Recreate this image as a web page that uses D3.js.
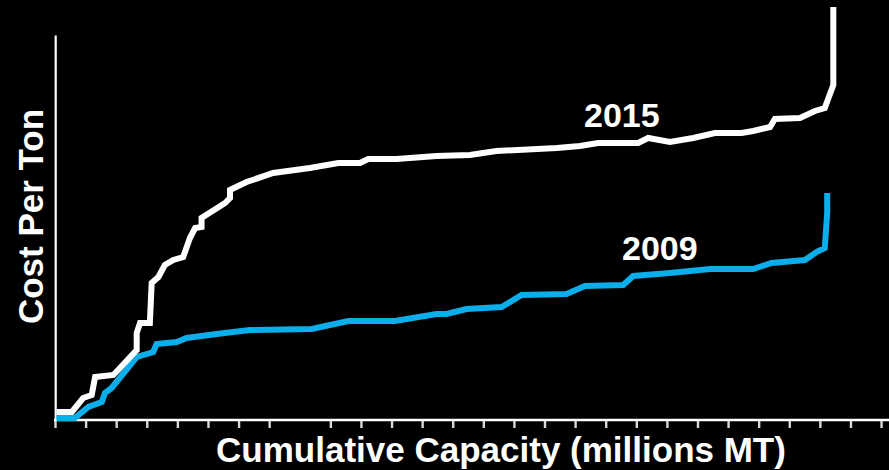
<!DOCTYPE html>
<html>
<head>
<meta charset="utf-8">
<script src="https://cdn.jsdelivr.net/npm/d3@7"></script>
<style>
  html, body { margin: 0; padding: 0; background: #000; }
  svg { display: block; }
  text { font-family: "Liberation Sans", Arial, sans-serif; font-weight: bold; fill: #fff; }
</style>
</head>
<body>
<script>
// ---- Data (cumulative capacity in millions MT, cost per ton in arbitrary units) ----
const series2015Capacity = [0.5, 5.5, 9.2, 12.0, 13.1, 19.1, 26.7, 26.7, 27.8, 31.0, 31.6, 33.8, 35.9, 38.7, 41.9, 44.1, 45.8, 47.9, 47.9, 55.6, 57.2, 57.2, 62.6, 71.3, 83.3, 92.6, 99.7, 102.4, 111.7, 124.7, 135.6, 144.3, 164.0, 171.6, 177.5, 183.6, 190.6, 193.9, 201.0, 208.6, 215.7, 224.4, 228.2, 233.7, 235.3, 243.5, 248.4, 251.6, 254.4, 254.4];
const series2015Cost     = [8, 8, 22, 25, 43, 45, 70, 87, 97, 97, 137, 143, 155, 160, 163, 182, 192, 193, 202, 217, 222, 230, 238, 247, 252, 257, 257, 261, 261, 264, 265, 269, 272, 274, 277, 277, 277, 282, 278, 282, 287, 287, 289, 293, 301, 302, 309, 312, 335, 413];

const series2009Capacity = [0.5, 6.5, 10.9, 15.3, 16.3, 18.5, 26.7, 32.1, 33.2, 39.8, 43.0, 52.8, 63.7, 83.9, 95.9, 111.1, 124.7, 128.0, 134.5, 146.0, 152.5, 167.2, 173.2, 185.7, 189.0, 201.0, 214.1, 228.2, 234.2, 245.1, 248.9, 251.6, 252.4, 252.4];
const series2009Cost     = [2, 2, 13, 18, 27, 32, 63, 68, 76, 78, 82, 86, 90, 91, 99, 99, 106, 106, 111, 113, 125, 126, 134, 135, 144, 147, 151, 151, 157, 160, 168, 172, 207, 227];

const seriesNames = ["2015", "2009"];
const xTickValues = [0, 10, 20, 30, 40, 50, 60, 70, 90, 100, 110, 120, 130, 140, 150, 160, 170, 180, 190, 200, 210, 220, 230, 240, 250, 260, 270];
const xAxisTitle = "Cumulative Capacity (millions MT)";
const yAxisTitle = "Cost Per Ton";

// ---- Layout ----
const W = 889, H = 470;
const svg = d3.select("body").append("svg").attr("width", W).attr("height", H)
  .style("background", "#000");
svg.append("rect").attr("width", W).attr("height", H).attr("fill", "#000");

const x = d3.scaleLinear().domain([0, 272.6]).range([55, 889]);
const y = d3.scaleLinear().domain([0, 385]).range([420, 35]);

// x axis ticks
const xAxis = d3.axisBottom(x).tickValues(xTickValues).tickSizeInner(7).tickSizeOuter(0).tickFormat("");
const gx = svg.append("g").attr("transform", "translate(0,421)").call(xAxis);
gx.select(".domain").remove();
gx.selectAll(".tick line").attr("stroke", "#d8d8d8").attr("stroke-width", 2.4);

// axis lines
svg.append("line").attr("x1", 54).attr("x2", W).attr("y1", 420).attr("y2", 420)
  .attr("stroke", "#fff").attr("stroke-width", 2.4);
const yAxis = d3.axisLeft(y).tickValues([]).tickSizeOuter(0);
const gy = svg.append("g").attr("transform", "translate(55.2,0)").call(yAxis);
gy.select(".domain").attr("stroke", "#fff").attr("stroke-width", 2.2);

// lines
const line = d3.line().x(d => x(d[0])).y(d => y(d[1]));
const d2015 = series2015Capacity.map((c, i) => [c, series2015Cost[i]]);
const d2009 = series2009Capacity.map((c, i) => [c, series2009Cost[i]]);

svg.append("path").datum(d2009).attr("d", line)
  .attr("fill", "none").attr("stroke", "#0aaeea").attr("stroke-width", 6)
  .attr("stroke-linejoin", "miter").attr("stroke-miterlimit", 2);
svg.append("path").datum(d2015).attr("d", line)
  .attr("fill", "none").attr("stroke", "#ffffff").attr("stroke-width", 6)
  .attr("stroke-linejoin", "miter").attr("stroke-miterlimit", 2);

// series labels
svg.append("text").attr("x", 584).attr("y", 127).attr("font-size", 34).text(seriesNames[0]);
svg.append("text").attr("x", 622).attr("y", 260).attr("font-size", 34).text(seriesNames[1]);

// axis titles
svg.append("text").attr("x", 501).attr("y", 462).attr("text-anchor", "middle")
  .attr("font-size", 35).text(xAxisTitle);
svg.append("text").attr("transform", "translate(43,216.5) rotate(-90)")
  .attr("text-anchor", "middle").attr("font-size", 35).text(yAxisTitle);
</script>
</body>
</html>
